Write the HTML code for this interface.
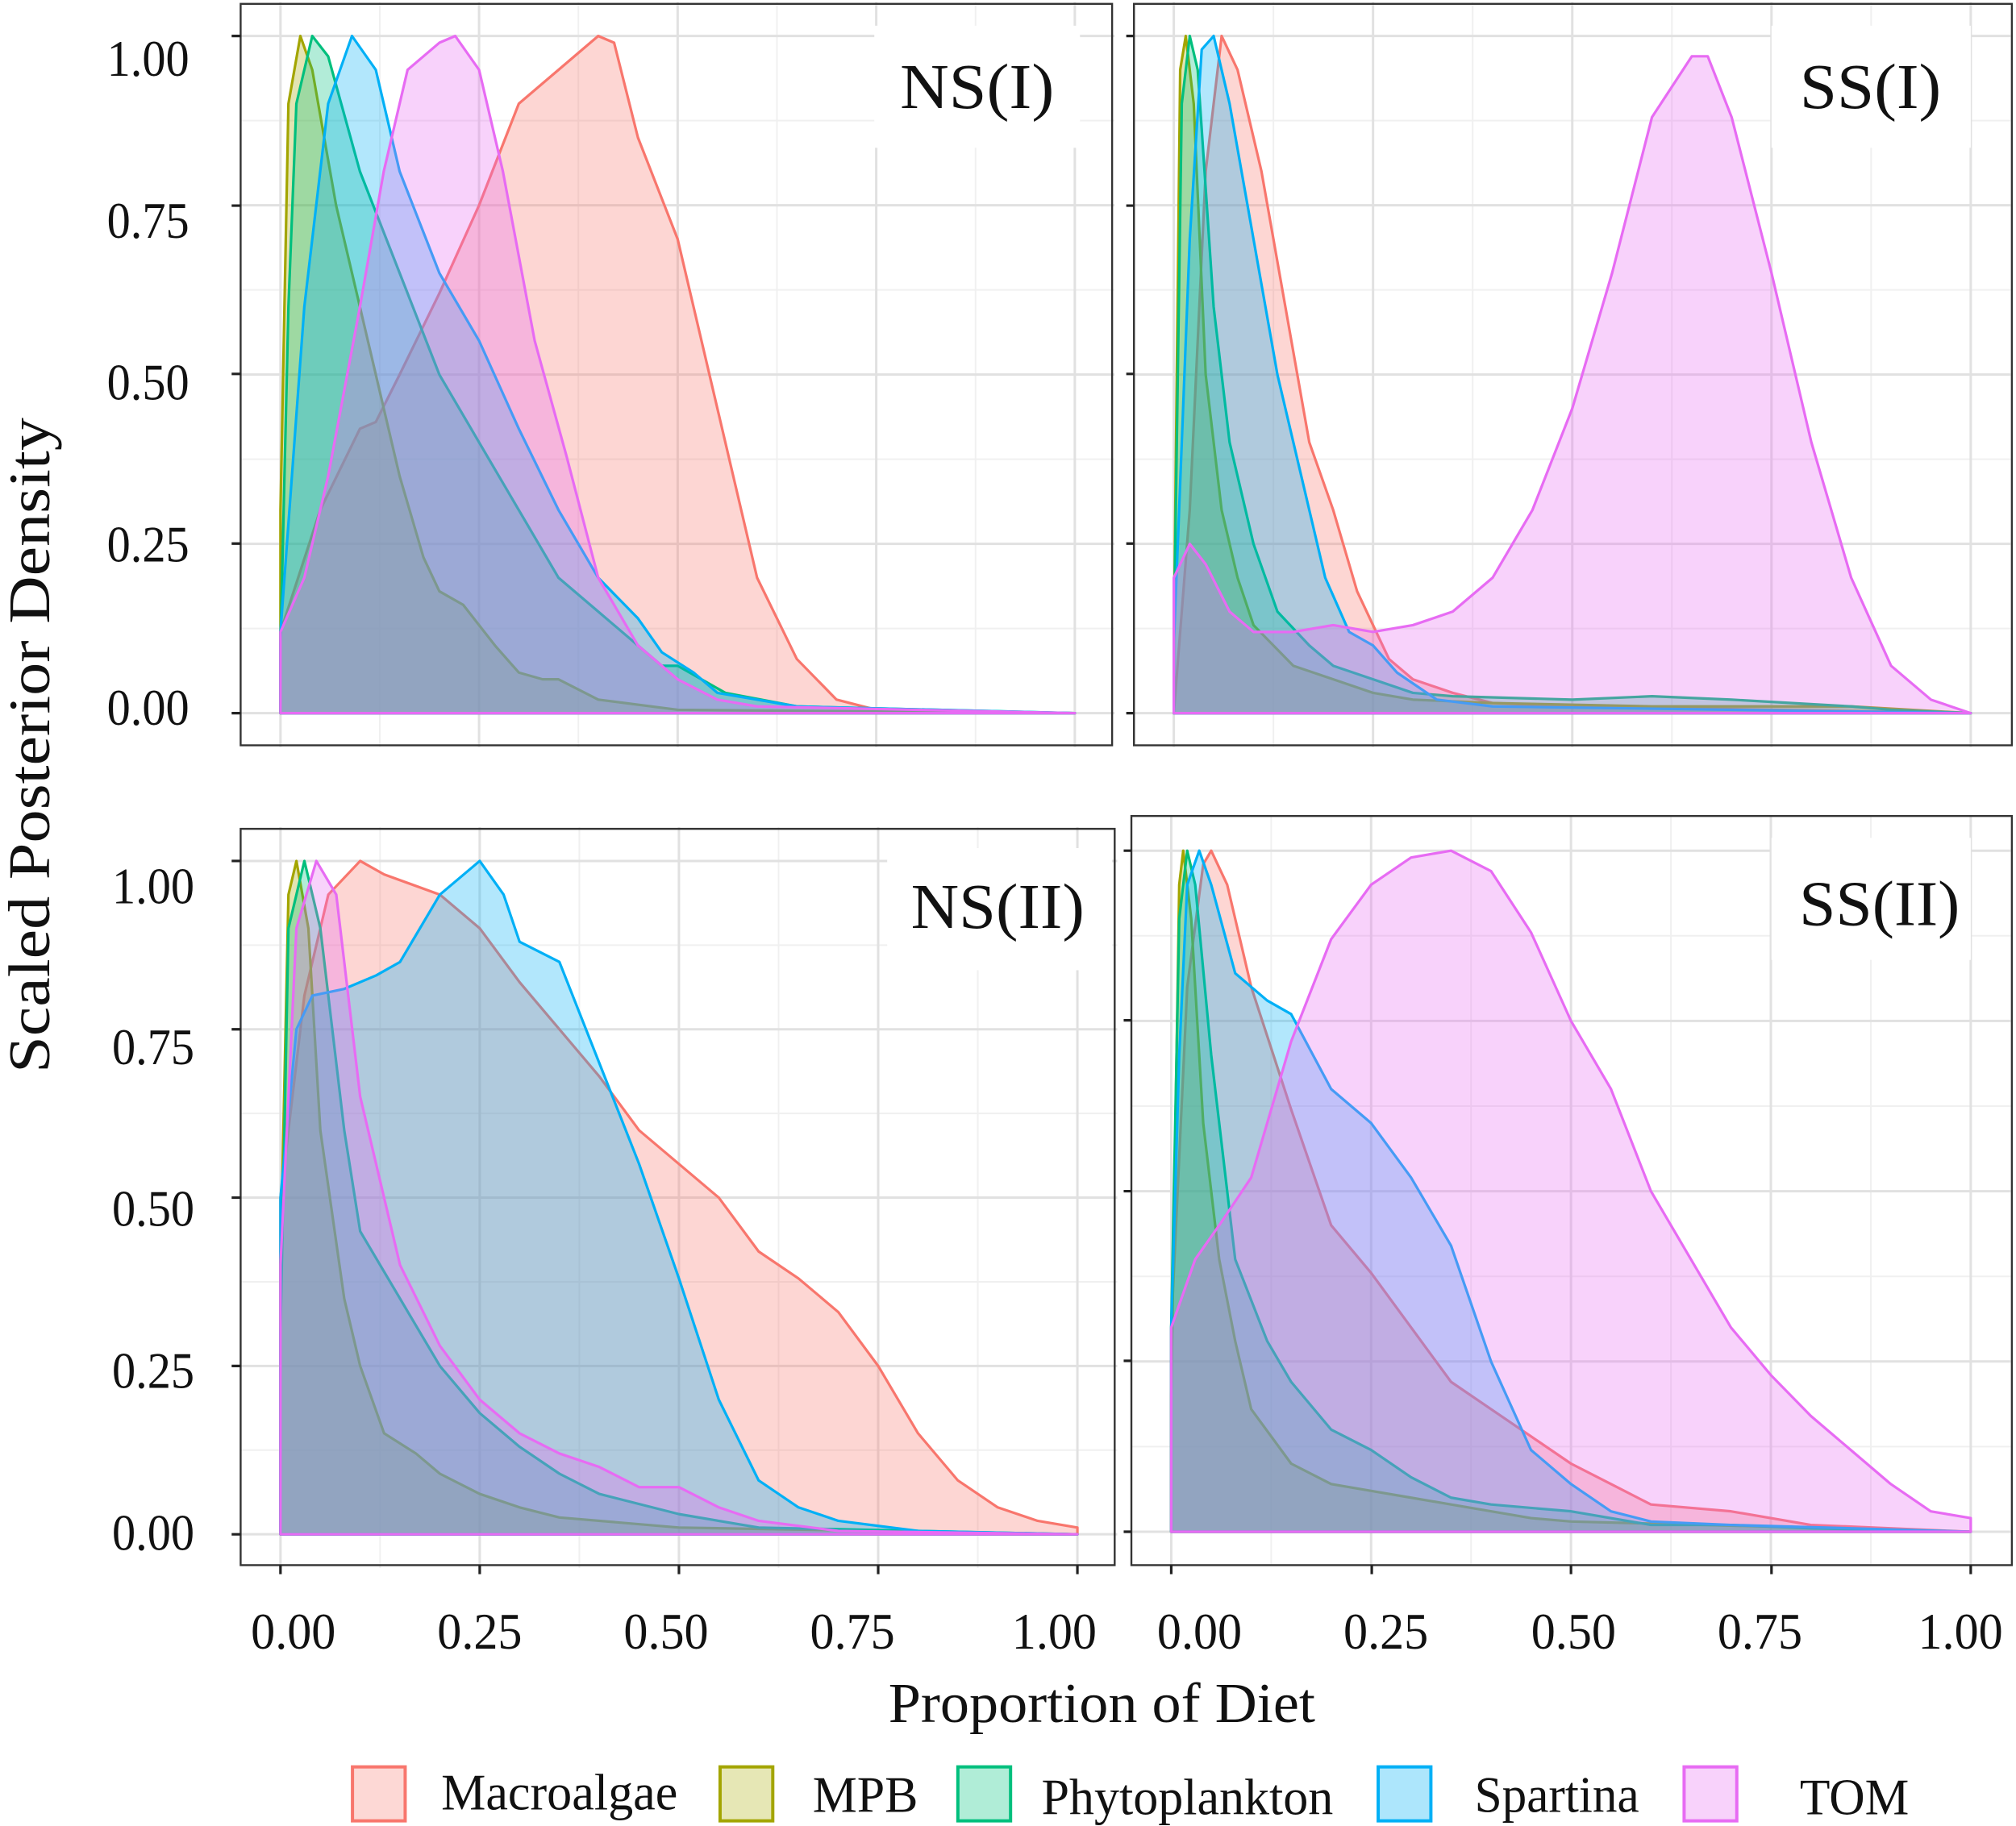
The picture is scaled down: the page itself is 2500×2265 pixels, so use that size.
<!DOCTYPE html>
<html><head><meta charset="utf-8"><style>html,body{margin:0;padding:0;background:#fff}svg{display:block}</style></head>
<body>
<svg xmlns="http://www.w3.org/2000/svg" width="2500" height="2265" viewBox="0 0 1568 1421">
<defs>
<g id="grid">
<g stroke="#f0f0f0" fill="none">
<path vector-effect="non-scaling-stroke" stroke-width="2" d="M0.125,-0.05V1.05M0.375,-0.05V1.05M0.625,-0.05V1.05M0.875,-0.05V1.05M-0.05,0.125H1.05M-0.05,0.375H1.05M-0.05,0.625H1.05M-0.05,0.875H1.05"/>
</g>
<g stroke="#e1e1e1" fill="none">
<path vector-effect="non-scaling-stroke" stroke-width="3" d="M0,-0.05V1.05M0.25,-0.05V1.05M0.5,-0.05V1.05M0.75,-0.05V1.05M1,-0.05V1.05M-0.05,0H1.05M-0.05,0.25H1.05M-0.05,0.5H1.05M-0.05,0.75H1.05M-0.05,1H1.05"/>
</g>
</g>
</defs>
<style>
.c path{vector-effect:non-scaling-stroke;stroke-width:3.2;stroke-linejoin:round}
.ma{fill:#F8766D;fill-opacity:.3;stroke:#F8766D}
.mp{fill:#A3A500;fill-opacity:.3;stroke:#A3A500}
.ph{fill:#00BF7D;fill-opacity:.3;stroke:#00BF7D}
.sp{fill:#00B0F6;fill-opacity:.3;stroke:#00B0F6}
.to{fill:#E76BF3;fill-opacity:.3;stroke:#E76BF3}
text{font-family:"Liberation Serif",serif;fill:#111}
</style>

<!-- Panel NS(I) -->
<rect x="187" y="3" width="678" height="577" fill="#fff"/>
<g transform="translate(218,555) scale(618,-527)">
<use href="#grid"/>
<g class="c">
<path class="ma" d="M0,0L0,0.12 .05,.3 .1,.42 .12,.43 .15,.5 .2,.62 .25,.75 .3,.9 .35,.95 .4,1 .42,.99 .45,.85 .5,.7 .53,.55 .57,.35 .6,.2 .65,.08 .7,.02 .75,.005 1,0Z"/>
<path class="mp" d="M0,0L0,0.3 .01,.9 .025,1 .04,.95 .07,.75 .1,.6 .13,.45 .15,.35 .18,.23 .2,.18 .23,.16 .27,.1 .3,.06 .33,.05 .35,.05 .4,.02 .5,.005 1,0Z"/>
<path class="ph" d="M0,0L0,.1 .01,.6 .02,.9 .04,1 .06,.97 .1,.8 .15,.65 .2,.5 .25,.4 .3,.3 .35,.2 .4,.15 .45,.1 .48,.07 .5,.07 .53,.05 .56,.03 .65,.01 1,0Z"/>
<path class="sp" d="M0,0L0,.12 .03,.6 .06,.9 .09,1 .12,.95 .15,.8 .2,.65 .25,.55 .3,.42 .35,.3 .4,.2 .45,.14 .48,.09 .52,.06 .55,.03 .65,.01 1,0Z"/>
<path class="to" d="M0,0L0,.12 .03,.2 .06,.35 .1,.6 .13,.8 .16,.95 .2,.99 .22,1 .25,.95 .28,.8 .32,.55 .36,.38 .4,.2 .45,.1 .5,.05 .55,.02 .6,.01 1,0Z"/>
</g></g>
<rect x="187" y="3" width="678" height="577" fill="none" stroke="#333" stroke-width="1.5"/>
<rect x="680" y="20" width="160" height="95" fill="#fff"/>
<text x="760" y="84" font-size="50" text-anchor="middle" textLength="120" lengthAdjust="spacingAndGlyphs">NS(I)</text>

<!-- Panel SS(I) -->
<rect x="882" y="3" width="683" height="577" fill="#fff"/>
<g transform="translate(913,555) scale(620,-527)">
<use href="#grid"/>
<g class="c">
<path class="ma" d="M0,0L0,0 .02,.3 .04,.8 .06,1 .08,.95 .11,.8 .14,.6 .17,.4 .2,.3 .23,.18 .27,.08 .3,.05 .35,.03 .4,.015 .5,.01 1,0Z"/>
<path class="mp" d="M0,0L0,.1 .008,.95 .015,1 .025,.9 .04,.5 .06,.3 .08,.2 .1,.13 .15,.07 .2,.05 .25,.03 .3,.02 .4,.015 .6,.01 .85,.01 1,0Z"/>
<path class="ph" d="M0,0L0,.1 .01,.9 .02,1 .03,.95 .05,.6 .07,.4 .1,.25 .13,.15 .17,.1 .2,.07 .25,.05 .3,.03 .35,.025 .5,.02 .6,.025 .7,.02 .85,.01 .9,.005 1,0Z"/>
<path class="sp" d="M0,0L0,.1 .02,.7 .035,.98 .05,1 .07,.9 .1,.7 .13,.5 .16,.35 .19,.2 .22,.12 .25,.1 .28,.06 .33,.02 .4,.01 1,0Z"/>
<path class="to" d="M0,0L0,.2 .02,.25 .04,.22 .07,.15 .1,.12 .15,.12 .2,.13 .25,.12 .3,.13 .35,.15 .4,.2 .45,.3 .5,.45 .55,.65 .6,.88 .65,.97 .67,.97 .7,.88 .75,.65 .8,.4 .85,.2 .9,.07 .95,.02 1,0Z"/>
</g></g>
<rect x="882" y="3" width="683" height="577" fill="none" stroke="#333" stroke-width="1.5"/>
<rect x="1378" y="20" width="155" height="95" fill="#fff"/>
<text x="1455" y="84" font-size="50" text-anchor="middle" textLength="110" lengthAdjust="spacingAndGlyphs">SS(I)</text>

<!-- Panel NS(II) -->
<rect x="187" y="645" width="680" height="573" fill="#fff"/>
<g transform="translate(218,1194) scale(620,-524)">
<use href="#grid"/>
<g class="c">
<path class="ma" d="M0,0L0,.5 .03,.8 .06,.95 .1,1 .13,.98 .2,.95 .25,.9 .3,.82 .35,.75 .4,.68 .45,.6 .5,.55 .55,.5 .6,.42 .65,.38 .7,.33 .75,.25 .8,.15 .85,.08 .9,.04 .95,.02 1,.01 1,0Z"/>
<path class="mp" d="M0,0L0,.4 .01,.95 .02,1 .035,.9 .05,.6 .08,.35 .1,.25 .13,.15 .17,.12 .2,.09 .25,.06 .3,.04 .35,.025 .5,.01 1,0Z"/>
<path class="ph" d="M0,0L0,.3 .01,.9 .03,1 .05,.9 .08,.6 .1,.45 .15,.35 .2,.25 .25,.18 .3,.13 .35,.09 .4,.06 .5,.03 .6,.01 1,0Z"/>
<path class="sp" d="M0,0L0,.5 .02,.75 .04,.8 .08,.81 .12,.83 .15,.85 .2,.95 .25,1 .28,.95 .3,.88 .35,.85 .4,.7 .45,.55 .5,.38 .55,.2 .6,.08 .65,.04 .7,.02 .8,.005 1,0Z"/>
<path class="to" d="M0,0L0,.4 .02,.9 .045,1 .07,.95 .1,.65 .15,.4 .2,.28 .25,.2 .3,.15 .35,.12 .4,.1 .45,.07 .5,.07 .55,.04 .6,.02 .7,.005 1,0Z"/>
</g></g>
<rect x="187" y="645" width="680" height="573" fill="none" stroke="#333" stroke-width="1.5"/>
<rect x="690" y="660" width="175" height="95" fill="#fff"/>
<text x="776" y="722" font-size="50" text-anchor="middle" textLength="135" lengthAdjust="spacingAndGlyphs">NS(II)</text>

<!-- Panel SS(II) -->
<rect x="880" y="635" width="685" height="583" fill="#fff"/>
<g transform="translate(911,1192) scale(622,-530)">
<use href="#grid"/>
<g class="c">
<path class="ma" d="M0,0L0,.3 .02,.8 .04,.98 .05,1 .07,.95 .1,.8 .15,.62 .2,.45 .25,.38 .3,.3 .35,.22 .4,.18 .45,.14 .5,.1 .55,.07 .6,.04 .7,.03 .8,.01 1,0Z"/>
<path class="mp" d="M0,0L0,.2 .01,.95 .015,1 .025,.9 .04,.6 .06,.4 .08,.28 .1,.18 .15,.1 .2,.07 .25,.06 .3,.05 .35,.04 .45,.02 .5,.015 1,0Z"/>
<path class="ph" d="M0,0L0,.3 .01,.9 .02,1 .03,.95 .05,.7 .08,.4 .12,.28 .15,.22 .2,.15 .25,.12 .3,.08 .35,.05 .4,.04 .5,.03 .6,.01 .7,.01 .8,.005 1,0Z"/>
<path class="sp" d="M0,0L0,.3 .01,.7 .02,.95 .035,1 .05,.95 .08,.82 .12,.78 .15,.76 .2,.65 .25,.6 .3,.52 .35,.42 .4,.25 .45,.12 .5,.07 .55,.03 .6,.015 .7,.01 1,0Z"/>
<path class="to" d="M0,0L0,.3 .03,.4 .06,.45 .1,.52 .15,.72 .2,.87 .25,.95 .3,.99 .35,1 .4,.97 .45,.88 .5,.75 .55,.65 .6,.5 .65,.4 .7,.3 .75,.23 .8,.17 .85,.12 .9,.07 .95,.03 1,.02 1,0Z"/>
</g></g>
<rect x="880" y="635" width="685" height="583" fill="none" stroke="#333" stroke-width="1.5"/>
<rect x="1378" y="652" width="155" height="95" fill="#fff"/>
<text x="1462" y="720" font-size="50" text-anchor="middle" textLength="125" lengthAdjust="spacingAndGlyphs">SS(II)</text>

<!-- ticks -->
<g stroke="#222" stroke-width="2">
<path d="M180,28h7M180,160h7M180,291h7M180,423h7M180,555h7"/>
<path d="M876,28h6M876,160h6M876,291h6M876,423h6M876,555h6"/>
<path d="M180,670h7M180,801h7M180,932h7M180,1063h7M180,1194h7"/>
<path d="M874,662h6M874,794h6M874,927h6M874,1059h6M874,1192h6"/>
<path d="M218,1218v7M373,1218v7M528,1218v7M683,1218v7M838,1218v7"/>
<path d="M911,1218v7M1067,1218v7M1222,1218v7M1378,1218v7M1533,1218v7"/>
</g>

<!-- y labels -->
<g font-size="40" text-anchor="end">
<text x="147" y="59" textLength="64" lengthAdjust="spacingAndGlyphs">1.00</text>
<text x="147" y="185" textLength="64" lengthAdjust="spacingAndGlyphs">0.75</text>
<text x="147" y="311" textLength="64" lengthAdjust="spacingAndGlyphs">0.50</text>
<text x="147" y="437" textLength="64" lengthAdjust="spacingAndGlyphs">0.25</text>
<text x="147" y="564" textLength="64" lengthAdjust="spacingAndGlyphs">0.00</text>
<text x="151" y="703" textLength="64" lengthAdjust="spacingAndGlyphs">1.00</text>
<text x="151" y="828" textLength="64" lengthAdjust="spacingAndGlyphs">0.75</text>
<text x="151" y="954" textLength="64" lengthAdjust="spacingAndGlyphs">0.50</text>
<text x="151" y="1080" textLength="64" lengthAdjust="spacingAndGlyphs">0.25</text>
<text x="151" y="1206" textLength="64" lengthAdjust="spacingAndGlyphs">0.00</text>
</g>
<!-- x labels -->
<g font-size="40" text-anchor="middle">
<text x="228" y="1283" textLength="66" lengthAdjust="spacingAndGlyphs">0.00</text>
<text x="373" y="1283" textLength="66" lengthAdjust="spacingAndGlyphs">0.25</text>
<text x="518" y="1283" textLength="66" lengthAdjust="spacingAndGlyphs">0.50</text>
<text x="663" y="1283" textLength="66" lengthAdjust="spacingAndGlyphs">0.75</text>
<text x="820" y="1283" textLength="66" lengthAdjust="spacingAndGlyphs">1.00</text>
<text x="933" y="1283" textLength="66" lengthAdjust="spacingAndGlyphs">0.00</text>
<text x="1078" y="1283" textLength="66" lengthAdjust="spacingAndGlyphs">0.25</text>
<text x="1224" y="1283" textLength="66" lengthAdjust="spacingAndGlyphs">0.50</text>
<text x="1369" y="1283" textLength="66" lengthAdjust="spacingAndGlyphs">0.75</text>
<text x="1525" y="1283" textLength="66" lengthAdjust="spacingAndGlyphs">1.00</text>
</g>

<text x="857" y="1340" font-size="44" text-anchor="middle" textLength="332" lengthAdjust="spacingAndGlyphs">Proportion of Diet</text>
<text transform="translate(38,580) rotate(-90)" font-size="46" text-anchor="middle" textLength="510" lengthAdjust="spacingAndGlyphs">Scaled Posterior Density</text>

<!-- legend -->
<g stroke-width="2.5">
<rect x="274" y="1375" width="41" height="42" fill="#FDD8D5" stroke="#F8766D"/>
<rect x="560" y="1375" width="41" height="42" fill="#E6E7B5" stroke="#A3A500"/>
<rect x="745" y="1375" width="41" height="42" fill="#B0EDD7" stroke="#00BF7D"/>
<rect x="1072" y="1375" width="41" height="42" fill="#ADE6FC" stroke="#00B0F6"/>
<rect x="1310" y="1375" width="41" height="42" fill="#F8D2FB" stroke="#E76BF3"/>
</g>
<g font-size="40">
<text x="343" y="1408" textLength="184" lengthAdjust="spacingAndGlyphs">Macroalgae</text>
<text x="632" y="1410" textLength="82" lengthAdjust="spacingAndGlyphs">MPB</text>
<text x="810" y="1412" textLength="227" lengthAdjust="spacingAndGlyphs">Phytoplankton</text>
<text x="1147" y="1410" textLength="128" lengthAdjust="spacingAndGlyphs">Spartina</text>
<text x="1400" y="1412" textLength="85" lengthAdjust="spacingAndGlyphs">TOM</text>
</g>
</svg>
</body></html>
